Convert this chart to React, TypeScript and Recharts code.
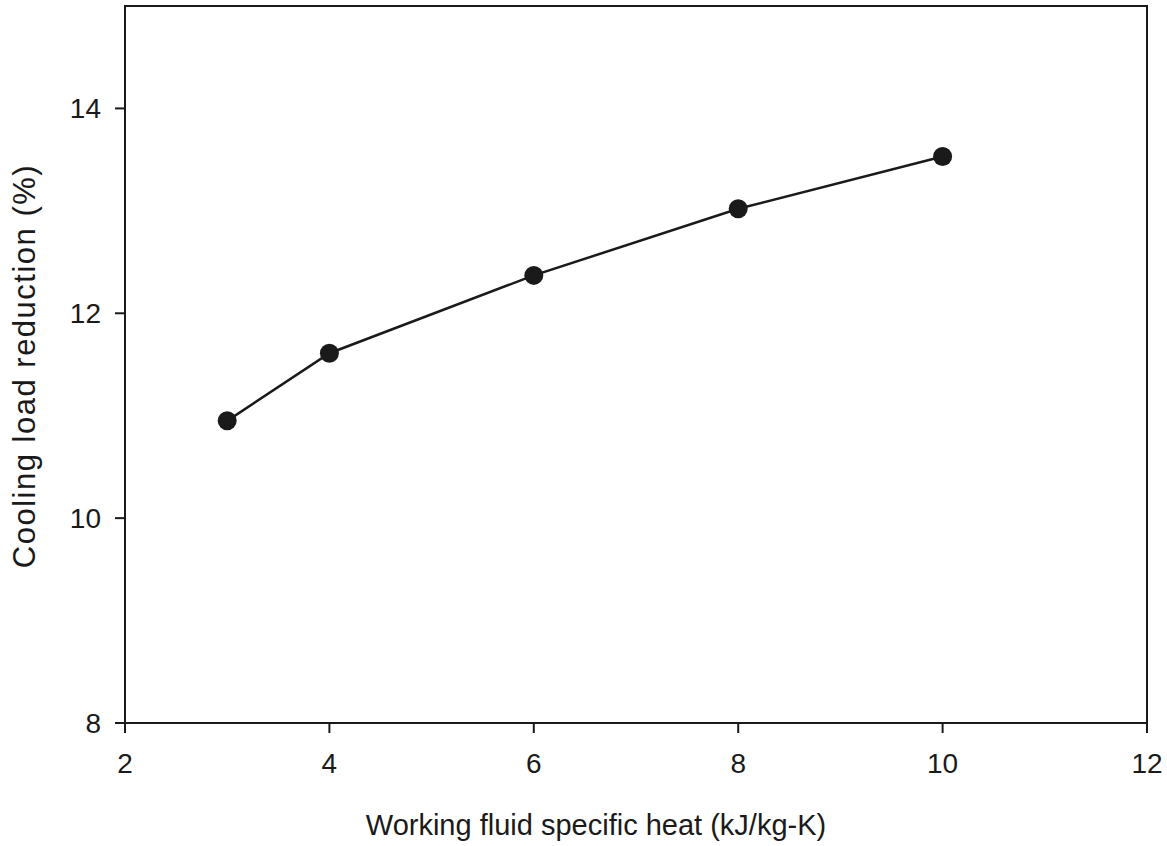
import { Label, Line, LineChart, ReferenceArea, XAxis, YAxis } from "recharts";

// Cooling load reduction versus working fluid specific heat
const specificHeat = [3, 4, 6, 8, 10];
const loadReduction = [10.95, 11.61, 12.37, 13.02, 13.53];
const xTicks = [2, 4, 6, 8, 10, 12];
const yTicks = [8, 10, 12, 14];

const data = specificHeat.map((cp, i) => ({ cp, reduction: loadReduction[i] }));

const FONT = "Arial, 'Liberation Sans', sans-serif";
const INK = "#1a1a1a";

export default function App() {
  return (
    <div style={{ position: "absolute", left: 0, top: 0, background: "#fff" }}>
      <LineChart
        width={1167}
        height={846}
        data={data}
        margin={{ top: 6, right: 20, bottom: 63, left: 65 }}
      >
        <ReferenceArea x1={2} x2={12} y1={8} y2={15} fill="none" stroke={INK} strokeWidth={2} />
        <XAxis
          dataKey="cp"
          type="number"
          domain={[2, 12]}
          ticks={xTicks}
          height={60}
          tickSize={10}
          tickMargin={20}
          axisLine={{ stroke: INK, strokeWidth: 2 }}
          tickLine={{ stroke: INK, strokeWidth: 2 }}
          tick={{ fill: INK, fontSize: 28, fontFamily: FONT }}
        >
          <Label
            content={() => (
              <text x={596} y={835} textAnchor="middle" fill={INK} fontSize={29} fontFamily={FONT}>
                Working fluid specific heat (kJ/kg-K)
              </text>
            )}
          />
        </XAxis>
        <YAxis
          type="number"
          domain={[8, 15]}
          ticks={yTicks}
          width={60}
          tickSize={10}
          tickMargin={14}
          axisLine={{ stroke: INK, strokeWidth: 2 }}
          tickLine={{ stroke: INK, strokeWidth: 2 }}
          tick={{ fill: INK, fontSize: 28, fontFamily: FONT }}
        >
          <Label
            content={() => (
              <text
                transform="translate(35,366) rotate(-90)"
                textAnchor="middle"
                fill={INK}
                fontSize={31}
                letterSpacing={1.5}
                fontFamily={FONT}
              >
                Cooling load reduction (%)
              </text>
            )}
          />
        </YAxis>
        <Line
          dataKey="reduction"
          stroke={INK}
          strokeWidth={2.5}
          dot={{ r: 9.5, fill: INK, stroke: INK, strokeWidth: 0 }}
          activeDot={false}
          isAnimationActive={false}
        />
      </LineChart>
    </div>
  );
}
